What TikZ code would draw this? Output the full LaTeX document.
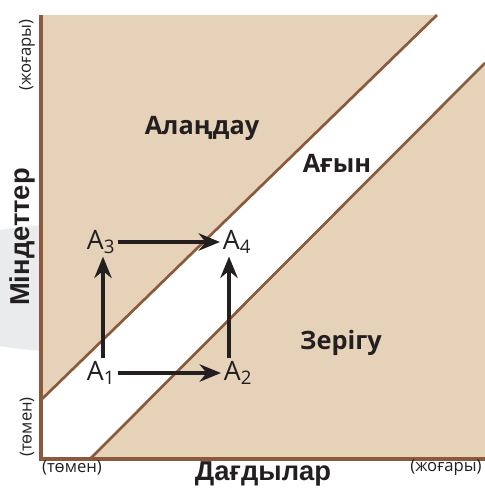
\documentclass[tikz,border=0pt]{standalone}
\usepackage{fontspec}
\setmainfont{Open Sans}
\newfontfamily\axisfont{Liberation Sans}
\usetikzlibrary{arrows.meta, positioning}
\definecolor{tanfill}{RGB}{229,210,185}
\definecolor{brownline}{RGB}{139,90,60}
\definecolor{greyblob}{RGB}{234,235,237}
\definecolor{inkblack}{RGB}{35,31,32}

\begin{document}
\begin{tikzpicture}[
    x=0.75pt, y=-0.75pt,
    >={Stealth[length=16pt,width=13pt]},
    zone/.style={fill=tanfill, draw=none},
    border/.style={draw=brownline, line width=2.4pt},
    edge/.style={draw=brownline, line width=2pt},
    state/.style={inner sep=2pt, text=inkblack, font=\fontsize{20}{22}\selectfont},
    move/.style={->, draw=inkblack, line width=2.6pt},
    region/.style={text=inkblack, font=\fontsize{19}{21}\selectfont\bfseries},
    axistitle/.style={text=inkblack, font=\axisfont\fontsize{20.5}{22}\selectfont\bfseries},
    axisend/.style={text=inkblack, font=\fontsize{12.5}{14}\selectfont}
  ]

  \useasboundingbox (0,0) rectangle (485,493);

  % grey blob behind the vertical title
  \fill[greyblob] (90,288) ellipse[x radius=200, y radius=65];

  % anxiety and boredom zones
  \fill[zone] (41,15) -- (437,15) -- (41,400) -- cycle;
  \fill[zone] (90,459) -- (485,63) -- (485,459) -- cycle;
  \fill[white] (41,400) -- (437,15) -- (485,15) -- (485,63) -- (90,459) -- (41,459) -- cycle;

  % channel borders
  \draw[edge] (41,400) -- (437,15);
  \draw[edge] (90,459) -- (485,63);

  % axes
  \draw[border] (41,15) -- (41,459) -- (485,459);

  % zone labels
  \node[region] (anx) at (202,128) {Алаңдау};
  \node[region] (flow) at (337,163) {Ағын};
  \node[region] (bore) at (341,343) {Зерігу};

  % states
  \node[state] (A3) at (101,242) {A\textsubscript{3}};
  \node[state] (A4) at (237,242) {A\textsubscript{4}};
  \node[state] (A1) at (101,373) {A\textsubscript{1}};
  \node[state] (A2) at (238,373) {A\textsubscript{2}};

  \draw[move] (A3) -- (A4);
  \draw[move] (A1) -- (A2);
  \draw[move] (A1.north -| 103,0) -- (A3.south -| 103,0);
  \draw[move] (A2.north -| 229,0) -- (A4.south -| 229,0);

  % axis titles
  \node[axistitle] (ytitle) at (22,237) [rotate=90] {Міндеттер};
  \node[axistitle] (xtitle) at (263,474) {Дағдылар};
  \node[axisend] (yhigh) at (27,55) [rotate=90] {(жоғары)};
  \node[axisend] (ylow) at (27,427) [rotate=90] {(төмен)};
  \node[axisend] (xlow) at (72,468) {(төмен)};
  \node[axisend] (xhigh) at (446,468) {(жоғары)};

\end{tikzpicture}
\end{document}
